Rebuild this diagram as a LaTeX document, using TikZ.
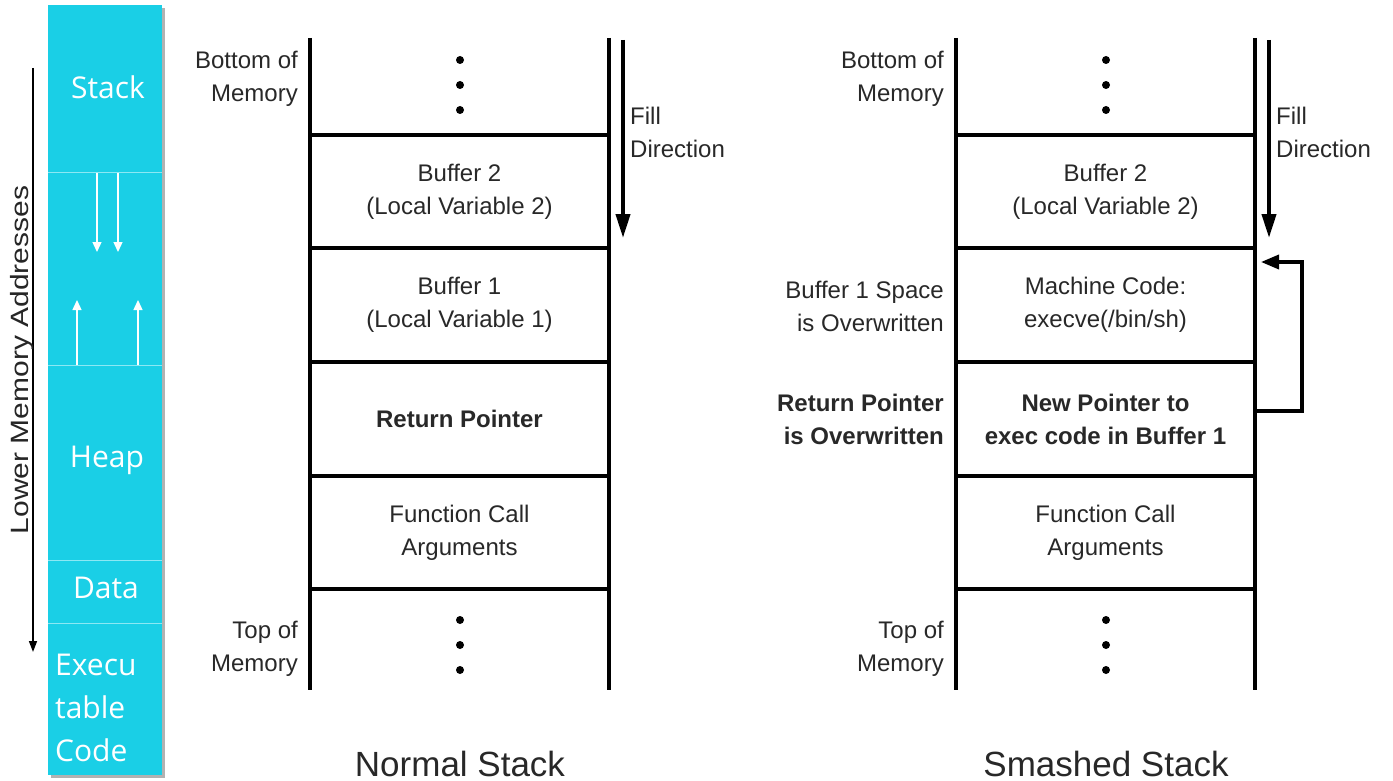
\documentclass[tikz,border=0pt]{standalone}
\usepackage{fontspec}
\setmainfont{Liberation Sans}
\newfontfamily\opensans{Open Sans}
\usetikzlibrary{arrows.meta}
\definecolor{barcyan}{RGB}{26,207,230}
\definecolor{barline}{RGB}{140,232,244}
\definecolor{txtgray}{RGB}{40,40,40}
\begin{document}
\begin{tikzpicture}[x=1pt,y=-1pt,
  lbl/.style={text=txtgray,align=right,font=\fontsize{24}{33}\selectfont,inner sep=0pt},
  celltxt/.style={text=txtgray,align=center,font=\fontsize{24}{33}\selectfont,inner sep=0pt,minimum width=299pt,minimum height=113pt},
  bartxt/.style={text=white,font=\opensans\fontsize{30}{43}\selectfont,align=left,inner sep=0pt},
  wall/.style={line width=4pt,black},
  dotm/.style={circle,fill=black,inner sep=0pt,minimum size=8pt},
  title/.style={text=txtgray,font=\fontsize{35}{40}\selectfont,inner sep=0pt},
  fillarrow/.style={line width=4pt,-{Triangle[length=24pt,width=14pt]}},
  whitearrow/.style={white,line width=1.3pt,-{Triangle[length=10pt,width=9pt]}}
]
\useasboundingbox (0,0) rectangle (1393,781);
\fill[white] (0,0) rectangle (1393,781);

% ---------- left memory bar ----------
\fill[gray!60] (51,8) rectangle (165,778);
\fill[barcyan] (48,5) rectangle (162,775);
\foreach \yy in {173,365,560,623} \draw[barline,line width=1pt] (48,\yy) -- (162,\yy);
\node[bartxt,anchor=center] (stk) at (108,87) {Stack};
\node[bartxt,anchor=center] (hp) at (107,460) {Heap};
\node[bartxt,anchor=center] (dt) at (106,588) {Data};
\node[bartxt,anchor=west] (ex) at (55,708) {Execu\\table\\Code};
\coordinate (d1s) at (97,173); \coordinate (d1e) at (97,252);
\coordinate (d2s) at (118,173); \coordinate (d2e) at (118,252);
\coordinate (u1s) at (77,365); \coordinate (u1e) at (77,300);
\coordinate (u2s) at (138,365); \coordinate (u2e) at (138,300);
\draw[whitearrow] (d1s) -- (d1e);
\draw[whitearrow] (d2s) -- (d2e);
\draw[whitearrow] (u1s) -- (u1e);
\draw[whitearrow] (u2s) -- (u2e);

% lower memory addresses arrow
\coordinate (lma1) at (33,68);
\coordinate (lma2) at (33,652);
\draw[line width=1.5pt,-{Triangle[length=11pt,width=8pt]}] (lma1) -- (lma2);
\node[rotate=90,anchor=south,inner sep=0pt,font=\fontsize{25}{30}\selectfont,text=black!85] (lmal) at (34,360) {\scalebox{1.2}[1]{Lower Memory Addresses}};

% ---------- normal stack ----------
\begin{scope}
\draw[wall] (310,38) -- (310,690);
\draw[wall] (609,38) -- (609,690);
\foreach \yy in {135,248,362,476,589} \draw[wall] (310,\yy) -- (609,\yy);
\foreach \yy in {60,85,110,620,645,670} \node[dotm] at (460,\yy) {};
\node[celltxt] (nb2) at (459.5,191.5) {Buffer 2\\(Local Variable 2)};
\node[celltxt] (nb1) at (459.5,305) {Buffer 1\\(Local Variable 1)};
\node[celltxt,font=\bfseries\fontsize{24}{33}\selectfont] (nrp) at (459.5,419) {Return Pointer};
\node[celltxt] (nfa) at (459.5,532.5) {Function Call\\Arguments};
\node[lbl,anchor=east] (nbot) at (298,79) {Bottom of\\Memory};
\node[lbl,anchor=east] (ntop) at (298,649) {Top of\\Memory};
\coordinate (nf1) at (623,40);
\coordinate (nf2) at (623,238);
\draw[fillarrow] (nf1) -- (nf2);
\node[lbl,anchor=west,align=left] (nfd) at (630,132) {Fill\\Direction};
\node[title] (nt) at (460,764) {Normal Stack};
\end{scope}

% ---------- smashed stack ----------
\begin{scope}
\draw[wall] (956,38) -- (956,690);
\draw[wall] (1255,38) -- (1255,690);
\foreach \yy in {135,248,362,476,589} \draw[wall] (956,\yy) -- (1255,\yy);
\foreach \yy in {60,85,110,620,645,670} \node[dotm] at (1106,\yy) {};
\node[celltxt] (sb2) at (1105.5,191.5) {Buffer 2\\(Local Variable 2)};
\node[celltxt] (smc) at (1105.5,305) {Machine Code:\\execve(/bin/sh)};
\node[celltxt,font=\bfseries\fontsize{24}{33}\selectfont] (snp) at (1105.5,419) {New Pointer to\\exec code in Buffer 1};
\node[celltxt] (sfa) at (1105.5,532.5) {Function Call\\Arguments};
\node[lbl,anchor=east] (sbot) at (944,79) {Bottom of\\Memory};
\node[lbl,anchor=east] (sb1l) at (944,306) {Buffer 1 Space\\is Overwritten};
\node[lbl,anchor=east,font=\bfseries\fontsize{24}{33}\selectfont] (srpl) at (944,419) {Return Pointer\\is Overwritten};
\node[lbl,anchor=east] (stop) at (944,649) {Top of\\Memory};
\coordinate (sf1) at (1269,40);
\coordinate (sf2) at (1269,238);
\draw[fillarrow] (sf1) -- (sf2);
\node[lbl,anchor=west,align=left] (sfd) at (1276,132) {Fill\\Direction};
\coordinate (ret) at (1261,262);
\draw[line width=3.5pt,-{Triangle[length=18pt,width=14pt]}] ([xshift=2pt]snp.east |- 0,411) -- (1302,411) -- (1302,262) -- (ret);
\node[title] (st) at (1106,764) {Smashed Stack};
\end{scope}
\end{tikzpicture}
\end{document}
